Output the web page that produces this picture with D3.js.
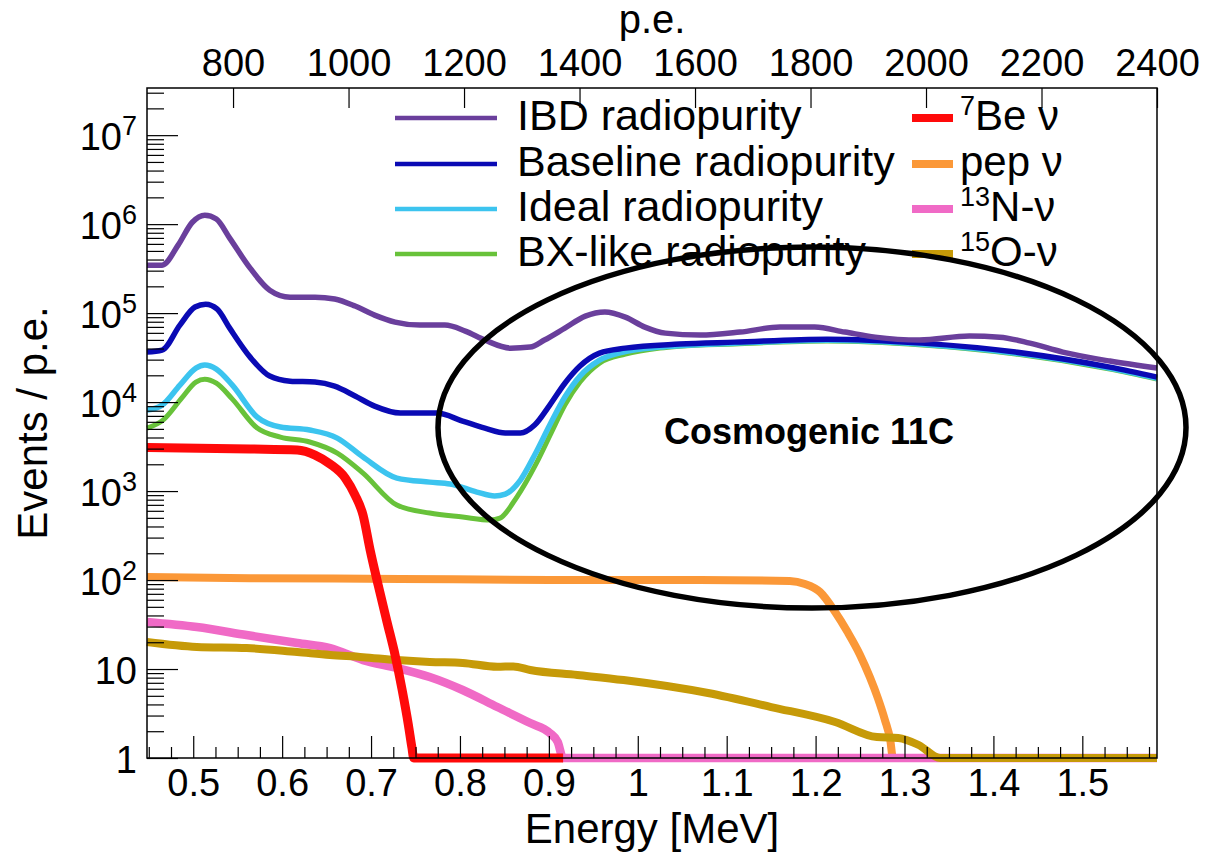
<!DOCTYPE html>
<html>
<head>
<meta charset="utf-8">
<script src="https://cdn.jsdelivr.net/npm/d3@7"></script>
<style>
  html, body { margin: 0; padding: 0; background: #fff; }
  svg { display: block; font-family: "Liberation Sans", Arial, Helvetica, sans-serif; }
</style>
</head>
<body>
<svg id="chart" width="1205" height="855"></svg>
<script>
// Spectra: [energy in MeV, events per p.e.]
const ibdRadiopurity = [
  [0.448, 346000], [0.465, 346000], [0.483, 581000], [0.499, 1050000], [0.513, 1260000],
  [0.526, 1140000], [0.541, 696000], [0.564, 320000], [0.586, 181000], [0.609, 151000],
  [0.637, 151000], [0.659, 144000], [0.682, 120000], [0.704, 95000], [0.727, 79300],
  [0.755, 73300], [0.783, 73300], [0.806, 62800], [0.828, 49800], [0.857, 40400],
  [0.879, 41500], [0.895, 49800], [0.918, 67800], [0.941, 92500], [0.963, 103000],
  [0.986, 90000], [1.008, 69600], [1.031, 59600], [1.070, 56600], [1.115, 61200],
  [1.160, 69600], [1.199, 69600], [1.233, 61200], [1.267, 53700], [1.317, 49800],
  [1.373, 55200], [1.407, 53700], [1.441, 46000], [1.478, 36500], [1.531, 28900],
  [1.584, 24100]
];
const baselineRadiopurity = [
  [0.448, 36500], [0.465, 38400], [0.485, 73300], [0.502, 117000], [0.514, 126000],
  [0.527, 111000], [0.541, 67800], [0.564, 32000], [0.586, 19600], [0.609, 17200],
  [0.637, 16800], [0.659, 15100], [0.682, 11700], [0.704, 9000], [0.733, 7520],
  [0.774, 7520], [0.803, 6120], [0.828, 5100], [0.851, 4490], [0.868, 4490],
  [0.884, 5520], [0.901, 9250], [0.918, 16300], [0.935, 25400], [0.957, 35500],
  [0.986, 40400], [1.047, 44900], [1.109, 47200], [1.213, 51000], [1.320, 46000],
  [1.425, 36500], [1.531, 24700], [1.584, 19100]
];
const idealRadiopurity = [
  [0.448, 8130], [0.465, 9250], [0.485, 15500], [0.503, 24100], [0.513, 26100],
  [0.526, 23500], [0.544, 15500], [0.572, 6780], [0.598, 5240], [0.631, 4850],
  [0.662, 3940], [0.691, 2410], [0.729, 1400], [0.766, 1260], [0.789, 1200],
  [0.819, 975], [0.839, 879], [0.851, 925], [0.868, 1330], [0.884, 2540],
  [0.901, 5520], [0.918, 11400], [0.935, 19600], [0.957, 29600], [0.986, 37000],
  [1.025, 41500], [1.047, 43000], [1.109, 45800], [1.213, 49500], [1.320, 44600],
  [1.425, 35400], [1.531, 24000], [1.584, 18500]
];
const bxLikeRadiopurity = [
  [0.448, 5100], [0.466, 6280], [0.487, 11100], [0.503, 16800], [0.513, 18100],
  [0.526, 16300], [0.544, 10800], [0.572, 5100], [0.598, 4040], [0.631, 3560],
  [0.662, 2670], [0.691, 1590], [0.729, 697], [0.766, 566], [0.803, 510],
  [0.834, 472], [0.845, 497], [0.864, 857], [0.886, 2060], [0.903, 4600],
  [0.918, 9250], [0.935, 16800], [0.957, 27400], [0.986, 34600], [1.025, 40500],
  [1.047, 42500], [1.109, 45000], [1.213, 48500], [1.320, 43800], [1.425, 34700],
  [1.531, 23500], [1.584, 18200]
];
const be7Nu = [
  [0.448, 3090], [0.564, 2970], [0.617, 2890], [0.637, 2540], [0.654, 2010],
  [0.671, 1400], [0.682, 902], [0.691, 537], [0.699, 217], [0.708, 87.9],
  [0.718, 33.7], [0.727, 14.4], [0.735, 5.81], [0.742, 2.35], [0.746, 1.3],
  [0.748, 1], [0.916, 1]
];
const pepNu = [
  [0.448, 108], [0.564, 105], [0.733, 103], [0.901, 100], [1.070, 100],
  [1.171, 97.5], [1.188, 90.2], [1.205, 73.3], [1.222, 43.7], [1.236, 26.0],
  [1.250, 14.4], [1.261, 8.13], [1.270, 4.72], [1.278, 2.67], [1.284, 1.59],
  [1.287, 1], [1.584, 1]
];
const n13Nu = [
  [0.448, 33.7], [0.504, 29.6], [0.560, 24.1], [0.617, 19.6], [0.654, 17.2],
  [0.691, 12.6], [0.729, 10.3], [0.766, 8.13], [0.803, 5.81], [0.842, 3.74],
  [0.879, 2.47], [0.901, 1.91], [0.910, 1.51], [0.916, 1], [1.584, 1]
];
const o15Nu = [
  [0.448, 20.1], [0.504, 17.7], [0.560, 17.2], [0.617, 15.5], [0.654, 14.4],
  [0.691, 13.6], [0.729, 12.6], [0.766, 12.0], [0.803, 11.7], [0.842, 10.6],
  [0.860, 10.7], [0.879, 9.75], [0.932, 8.57], [0.984, 7.52], [1.079, 5.37],
  [1.150, 3.74], [1.222, 2.54], [1.269, 1.72], [1.293, 1.68], [1.316, 1.4],
  [1.340, 1], [1.584, 1]
];

// Axis tick labels
const energyTicks = [0.5, 0.6, 0.7, 0.8, 0.9, 1, 1.1, 1.2, 1.3, 1.4, 1.5];
const peTicks = [800, 1000, 1200, 1400, 1600, 1800, 2000, 2200, 2400];
const decadeTicks = [1, 10, 100, 1e3, 1e4, 1e5, 1e6, 1e7];

// Legend entries (superscript prefix, main text)
const legendLeft = ["IBD radiopurity", "Baseline radiopurity", "Ideal radiopurity", "BX-like radiopurity"];
const legendRight = [["7", "Be \u03bd"], ["", "pep \u03bd"], ["13", "N-\u03bd"], ["15", "O-\u03bd"]];

const colors = {
  ibd: "#6a3f9c", baseline: "#0a0ab4", ideal: "#3cc4ef", bx: "#68c23a",
  be7: "#ff0a0a", pep: "#fb9838", n13: "#f06ac6", o15: "#c69a08"
};

const svg = d3.select("#chart");
const W = 1205, H = 855;
const plot = { left: 147, right: 1157, top: 88, bottom: 758 };

const x = d3.scaleLinear().domain([0.448, 1.584]).range([plot.left, plot.right]);
const xTop = d3.scaleLinear().domain([651, 2400]).range([plot.left, plot.right]);
const y = d3.scaleLog().domain([1, Math.pow(10, 7.53)]).range([plot.bottom, plot.top]);

svg.append("rect").attr("width", W).attr("height", H).attr("fill", "#fff");

// ---- curves ----
const line = d3.line()
  .x(d => x(d[0]))
  .y(d => y(d[1]))
  .curve(d3.curveMonotoneX);

const series = [
  { data: bxLikeRadiopurity, color: colors.bx, width: 5 },
  { data: idealRadiopurity, color: colors.ideal, width: 5.5 },
  { data: baselineRadiopurity, color: colors.baseline, width: 5.5 },
  { data: ibdRadiopurity, color: colors.ibd, width: 5.5 },
  { data: pepNu, color: colors.pep, width: 8 },
  { data: n13Nu, color: colors.n13, width: 8.5 },
  { data: o15Nu, color: colors.o15, width: 8 },
  { data: be7Nu, color: colors.be7, width: 9 }
];

svg.append("g").attr("class", "curves")
  .selectAll("path")
  .data(series)
  .join("path")
  .attr("d", s => line(s.data))
  .attr("fill", "none")
  .attr("stroke", s => s.color)
  .attr("stroke-width", s => s.width)
  .attr("stroke-linejoin", "round");

// ---- axes ----
const tickFont = 38;

// bottom: energy
const gBottom = svg.append("g").attr("transform", `translate(0,${plot.bottom})`);
gBottom.call(d3.axisBottom(x).tickValues(energyTicks).tickSize(-22).tickPadding(11)
  .tickFormat(d => String(d)));
const minorEnergy = d3.range(0.45, 1.584, 0.025).filter(v => !energyTicks.some(t => Math.abs(t - v) < 1e-6));
svg.append("g").attr("transform", `translate(0,${plot.bottom})`)
  .call(d3.axisBottom(x).tickValues(minorEnergy).tickSize(-11).tickFormat(""));

// top: photoelectrons
const gTop = svg.append("g").attr("transform", `translate(0,${plot.top})`);
gTop.call(d3.axisTop(xTop).tickValues(peTicks).tickSize(-20).tickPadding(12)
  .tickFormat(d => String(d)));

// left: log counts
const gLeft = svg.append("g").attr("transform", `translate(${plot.left},0)`);
gLeft.call(d3.axisLeft(y).tickValues(decadeTicks).tickSize(-31).tickPadding(10).tickFormat(""));
const minorCounts = [];
for (let k = 0; k < 8; k++) for (let m = 2; m <= 9; m++) {
  const v = m * Math.pow(10, k);
  if (v < y.domain()[1]) minorCounts.push(v);
}
svg.append("g").attr("transform", `translate(${plot.left},0)`)
  .call(d3.axisLeft(y).tickValues(minorCounts).tickSize(-17).tickFormat(""));

// power-of-ten labels with superscript exponents
gLeft.selectAll(".tick text").each(function(d) {
  const t = d3.select(this);
  const exp = Math.round(Math.log10(d));
  t.text(null).attr("dy", "0.37em");
  if (exp === 0) t.append("tspan").text("1");
  else if (exp === 1) t.append("tspan").text("10");
  else {
    t.append("tspan").text("10");
    t.append("tspan").attr("font-size", 27).attr("dy", -15).text(String(exp));
  }
});

svg.selectAll(".domain").remove();
svg.selectAll(".tick line").attr("stroke", "#000").attr("stroke-width", 1.2);
svg.selectAll(".tick text").attr("fill", "#000").attr("font-size", tickFont)
  .attr("font-family", '"Liberation Sans", Arial, sans-serif');

// frame
svg.append("rect")
  .attr("x", plot.left).attr("y", plot.top)
  .attr("width", plot.right - plot.left).attr("height", plot.bottom - plot.top)
  .attr("fill", "none").attr("stroke", "#000").attr("stroke-width", 1.5);

// axis titles
svg.append("text").attr("x", (plot.left + plot.right) / 2).attr("y", 843)
  .attr("text-anchor", "middle").attr("font-size", 42).text("Energy [MeV]");
svg.append("text").attr("x", (plot.left + plot.right) / 2).attr("y", 33)
  .attr("text-anchor", "middle").attr("font-size", 40).text("p.e.");
svg.append("text").attr("transform", `translate(47,${(plot.top + plot.bottom) / 2}) rotate(-90)`)
  .attr("text-anchor", "middle").attr("font-size", 42).text("Events / p.e.");

// ---- legend ----
const legendRows = [118, 164, 209, 254];
const leftColors = [colors.ibd, colors.baseline, colors.ideal, colors.bx];
const rightColors = [colors.be7, colors.pep, colors.n13, colors.o15];

const gLeg = svg.append("g").attr("class", "legend");
legendLeft.forEach((label, i) => {
  const ry = legendRows[i];
  gLeg.append("line").attr("x1", 395).attr("x2", 497).attr("y1", ry).attr("y2", ry)
    .attr("stroke", leftColors[i]).attr("stroke-width", 4.5);
  gLeg.append("text").attr("x", 517).attr("y", ry + 12).attr("font-size", 43).text(label);
});
legendRight.forEach((entry, i) => {
  const ry = legendRows[i];
  gLeg.append("line").attr("x1", 912).attr("x2", 953).attr("y1", ry).attr("y2", ry)
    .attr("stroke", rightColors[i]).attr("stroke-width", 8);
  const t = gLeg.append("text").attr("x", 960).attr("y", ry + 12).attr("font-size", 42);
  if (entry[0]) {
    t.append("tspan").attr("font-size", 27).attr("dy", -15).text(entry[0]);
    t.append("tspan").attr("dy", 15).text(entry[1]);
  } else {
    t.append("tspan").text(entry[1]);
  }
});

// ---- highlighted region ----
svg.append("ellipse")
  .attr("cx", 812).attr("cy", 427.5).attr("rx", 374).attr("ry", 180.5)
  .attr("fill", "none").attr("stroke", "#000").attr("stroke-width", 5.5);
svg.append("text").attr("x", 809).attr("y", 444).attr("text-anchor", "middle")
  .attr("font-size", 36).attr("font-weight", "bold").text("Cosmogenic 11C");
</script>
</body>
</html>
